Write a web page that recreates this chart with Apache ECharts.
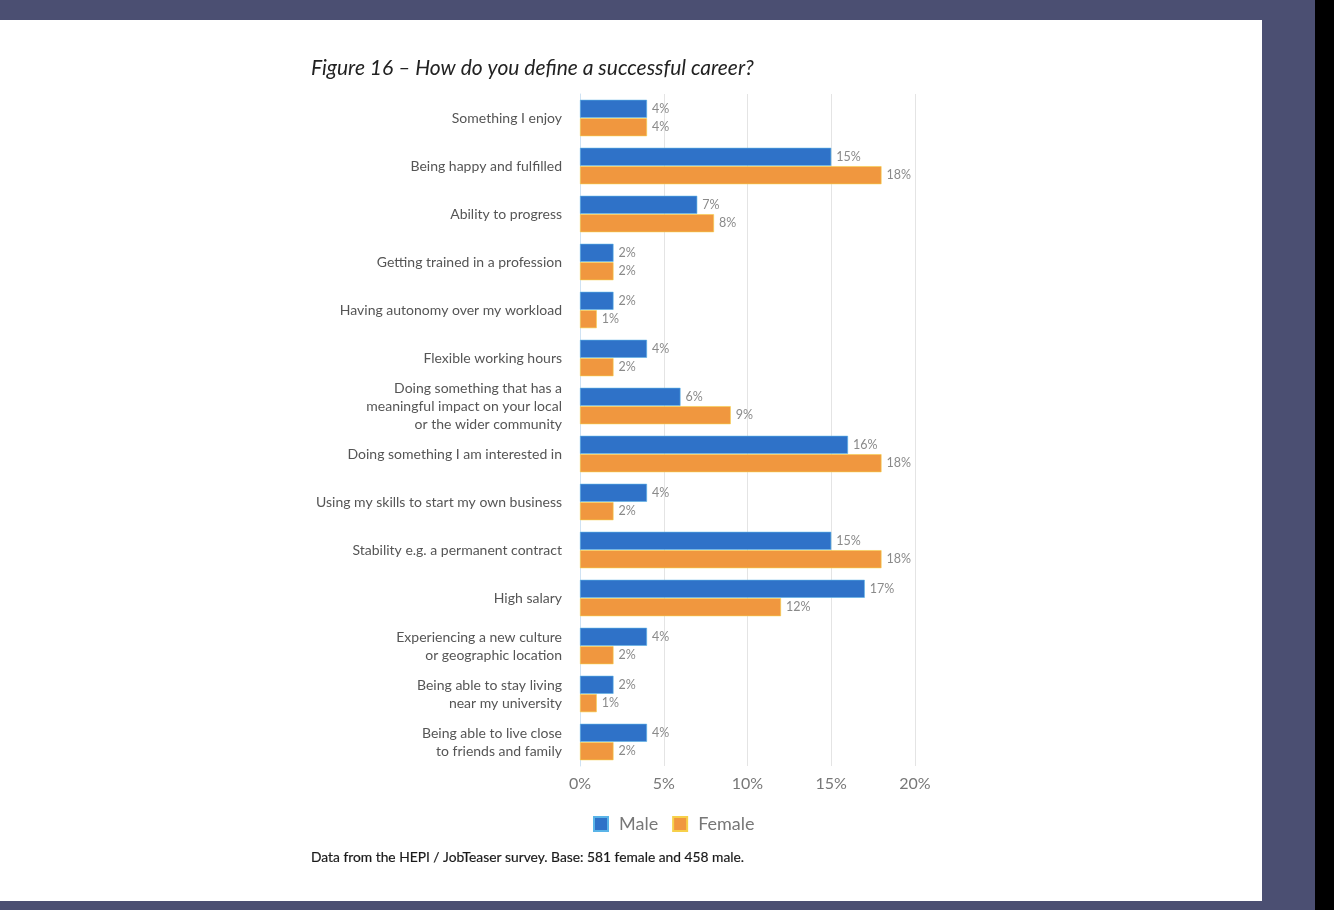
<!DOCTYPE html>
<html>
<head>
<meta charset="utf-8">
<script src="https://cdn.jsdelivr.net/npm/echarts@6/dist/echarts.min.js"></script>
<style>
    html, body { margin: 0; padding: 0; }
    body { width: 1334px; height: 910px; background: #4b4f72; position: relative; overflow: hidden; }
    #page { position: absolute; left: 0; top: 20px; width: 1262px; height: 881px; background: #fff; }
    #edge { position: absolute; left: 1315px; top: 0; width: 19px; height: 910px; background: #000; }
    #chart { position: absolute; left: 0; top: 0; width: 1334px; height: 910px; }
</style>
</head>
<body>
<div id="page"></div>
<div id="edge"></div>
<div id="chart"></div>
<script>
const categories = [
    'Something I enjoy',
    'Being happy and fulfilled',
    'Ability to progress',
    'Getting trained in a profession',
    'Having autonomy over my workload',
    'Flexible working hours',
    'Doing something that has a\nmeaningful impact on your local\nor the wider community',
    'Doing something I am interested in',
    'Using my skills to start my own business',
    'Stability e.g. a permanent contract',
    'High salary',
    'Experiencing a new culture\nor geographic location',
    'Being able to stay living\nnear my university',
    'Being able to live close\nto friends and family'
];
const maleValues = [4, 15, 7, 2, 2, 4, 6, 16, 4, 15, 17, 4, 2, 4];
const femaleValues = [4, 18, 8, 2, 1, 2, 9, 18, 2, 18, 12, 2, 1, 2];
const xTicks = [0, 5, 10, 15, 20];

const chart = echarts.init(document.getElementById('chart'));
const options = {
    backgroundColor: 'transparent',
    title: [
        {
            text: 'Figure 16 \u2013 How do you define a successful career?',
            left: 311,
            top: 58,
            padding: 0,
            textStyle: { fontFamily: 'Lato', fontStyle: 'italic', fontWeight: 'normal', fontSize: 21, color: '#222' }
        },
        {
            text: 'Data from the HEPI / JobTeaser survey. Base: 581 female and 458 male.',
            left: 311,
            top: 851,
            padding: 0,
            textStyle: { fontFamily: 'Lato', fontWeight: 'normal', fontSize: 13.8, color: '#1a1a1a', textBorderColor: '#1a1a1a', textBorderWidth: 0.2 }
        }
    ],
    legend: {
        data: ['Male', 'Female'],
        icon: 'rect',
        left: 593,
        top: 815,
        padding: 0,
        itemWidth: 14,
        itemHeight: 14,
        itemGap: 14,
        textStyle: { fontFamily: 'Lato', fontSize: 18, color: '#777', padding: [0, 0, 0, 6] }
    },
    grid: { left: 580, right: 419, top: 94, bottom: 144, containLabel: false },
    xAxis: {
        type: 'value',
        min: xTicks[0],
        max: xTicks[xTicks.length - 1],
        interval: 5,
        axisLine: { show: false },
        axisTick: { show: false },
        splitLine: { show: true, lineStyle: { color: '#e4e4e4' } },
        axisLabel: { formatter: '{value}%', fontFamily: 'Lato', fontSize: 16, color: '#777', margin: 10 }
    },
    yAxis: {
        type: 'category',
        data: categories,
        inverse: true,
        axisLine: { show: true, lineStyle: { color: '#cfe2f3' } },
        axisTick: { show: false },
        axisLabel: { fontFamily: 'Lato', fontSize: 14, color: '#555', lineHeight: 18, margin: 18, align: 'right' }
    },
    series: [
        {
            name: 'Male',
            type: 'bar',
            data: maleValues,
            barWidth: 18,
            barGap: '2%',
            itemStyle: { color: '#2f72c8', borderColor: '#5ab4e8', borderWidth: 0.6 },
            label: { show: true, position: 'right', distance: 5, formatter: '{c}%', fontFamily: 'Lato', fontSize: 12.5, color: '#8a8a8a' }
        },
        {
            name: 'Female',
            type: 'bar',
            data: femaleValues,
            barWidth: 18,
            itemStyle: { color: '#f0973f', borderColor: '#f7d04a', borderWidth: 0.6 },
            label: { show: true, position: 'right', distance: 5, formatter: '{c}%', fontFamily: 'Lato', fontSize: 12.5, color: '#8a8a8a' }
        }
    ]
};
chart.setOption(options);
</script>
</body>
</html>
